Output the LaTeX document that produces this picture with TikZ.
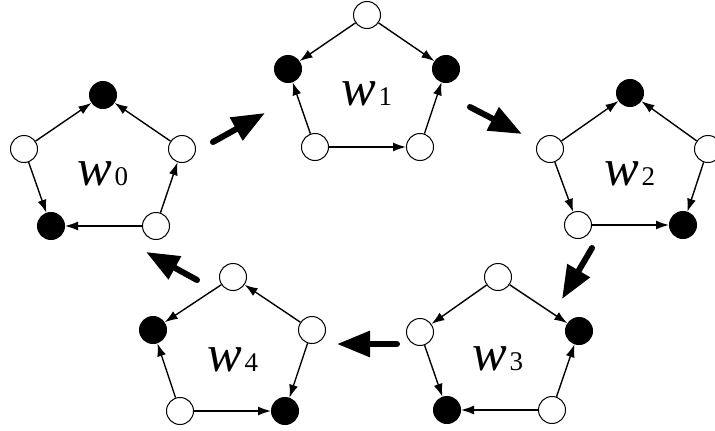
\documentclass[tikz,border=0pt]{standalone}
\usepackage{fontspec}
\setmainfont{Liberation Serif}
\usetikzlibrary{arrows.meta}
\newcommand{\wlab}[1]{{\fontsize{52}{52}\selectfont\itshape w}\kern2pt{\fontsize{27}{27}\selectfont #1}}
\tikzset{
	wh/.style={circle,draw,line width=1pt,fill=white,minimum size=27pt,inner sep=0pt},
	bk/.style={wh,fill=black},
	edge/.style={line width=1.4pt,-{Latex[length=13pt,width=9pt]}},
	bigarrow/.style={line width=6pt,line cap=round,-{Triangle[length=33pt,width=25pt]}},
	lbl/.style={anchor=base,inner sep=0pt}
}
\begin{document}
\begin{tikzpicture}[x=1pt,y=-1pt]
	\useasboundingbox (0,0) rectangle (715,431);
	% w0
	\begin{scope}[shift={(103,95)}]
	\node[bk] (t0) at (0,0) {};
	\node[wh] (ul0) at (-79,54) {};
	\node[wh] (ur0) at (79,54) {};
	\node[bk] (ll0) at (-52,131) {};
	\node[wh] (lr0) at (53,131) {};
	\node[lbl] (n0) at (0,90) {\wlab{0}};
	\draw [edge] (ul0) -- (t0);
	\draw [edge] (ur0) -- (t0);
	\draw [edge] (ul0) -- (ll0);
	\draw [edge] (lr0) -- (ll0);
	\draw [edge] (lr0) -- (ur0);
	\end{scope}
	% w1
	\begin{scope}[shift={(367,15)}]
	\node[wh] (t1) at (0,0) {};
	\node[bk] (ul1) at (-79,54) {};
	\node[bk] (ur1) at (79,54) {};
	\node[wh] (ll1) at (-52,132) {};
	\node[wh] (lr1) at (53,132) {};
	\node[lbl] (n1) at (0,90) {\wlab{1}};
	\draw [edge] (t1) -- (ul1);
	\draw [edge] (t1) -- (ur1);
	\draw [edge] (ll1) -- (ul1);
	\draw [edge] (ll1) -- (lr1);
	\draw [edge] (lr1) -- (ur1);
	\end{scope}
	% w2
	\begin{scope}[shift={(630,93)}]
	\node[bk] (t2) at (0,0) {};
	\node[wh] (ul2) at (-80,56) {};
	\node[wh] (ur2) at (78,56) {};
	\node[wh] (ll2) at (-52,132) {};
	\node[bk] (lr2) at (53,132) {};
	\node[lbl] (n2) at (0,92) {\wlab{2}};
	\draw [edge] (ul2) -- (t2);
	\draw [edge] (ur2) -- (t2);
	\draw [edge] (ul2) -- (ll2);
	\draw [edge] (ll2) -- (lr2);
	\draw [edge] (ur2) -- (lr2);
	\end{scope}
	% w3
	\begin{scope}[shift={(498,277)}]
	\node[wh] (t3) at (0,0) {};
	\node[wh] (ul3) at (-78,55) {};
	\node[bk] (ur3) at (81,54) {};
	\node[bk] (ll3) at (-51,133) {};
	\node[wh] (lr3) at (54,133) {};
	\node[lbl] (n3) at (0,93) {\wlab{3}};
	\draw [edge] (t3) -- (ul3);
	\draw [edge] (t3) -- (ur3);
	\draw [edge] (ul3) -- (ll3);
	\draw [edge] (lr3) -- (ll3);
	\draw [edge] (lr3) -- (ur3);
	\end{scope}
	% w4
	\begin{scope}[shift={(233,277)}]
	\node[wh] (t4) at (0,0) {};
	\node[bk] (ul4) at (-80,53) {};
	\node[wh] (ur4) at (79,53) {};
	\node[wh] (ll4) at (-53,134) {};
	\node[bk] (lr4) at (52,134) {};
	\node[lbl] (n4) at (0,94) {\wlab{4}};
	\draw [edge] (t4) -- (ul4);
	\draw [edge] (ur4) -- (t4);
	\draw [edge] (ll4) -- (ul4);
	\draw [edge] (ll4) -- (lr4);
	\draw [edge] (ur4) -- (lr4);
	\end{scope}
	% moves between the states
	\coordinate (a0) at (213,142);
	\coordinate (b0) at (265,113);
	\coordinate (a1) at (470,107);
	\coordinate (b1) at (522,134);
	\coordinate (a2) at (592,248);
	\coordinate (b2) at (562,299);
	\coordinate (a3) at (397,344);
	\coordinate (b3) at (337,344);
	\coordinate (a4) at (197,280);
	\coordinate (b4) at (146,252);
	\draw [bigarrow] (a0) -- (b0);
	\draw [bigarrow] (a1) -- (b1);
	\draw [bigarrow] (a2) -- (b2);
	\draw [bigarrow] (a3) -- (b3);
	\draw [bigarrow] (a4) -- (b4);
\end{tikzpicture}
\end{document}
